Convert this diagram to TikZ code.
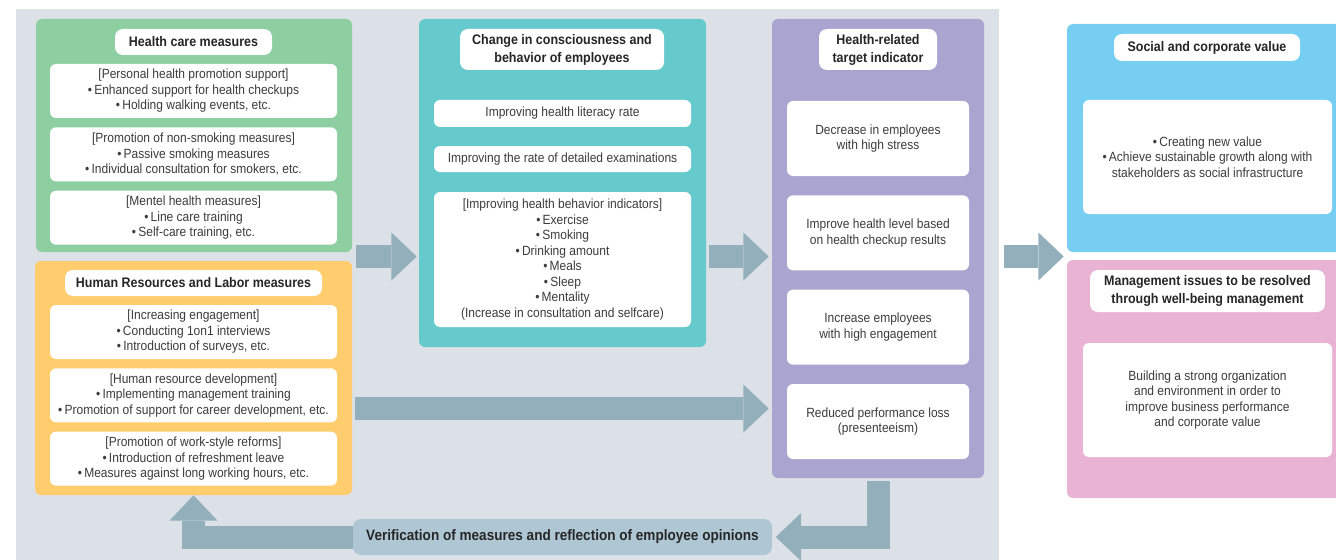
\documentclass[tikz,border=0pt]{standalone}
\usepackage{fontspec}
\setmainfont{Liberation Sans}[FakeStretch=0.9]
\usepackage{tikz}
\usetikzlibrary{arrows.meta,calc}
\definecolor{bggray}{HTML}{DCE1E8}
\definecolor{hcgreen}{HTML}{8DCFA0}
\definecolor{hrorange}{HTML}{FFCC6E}
\definecolor{chteal}{HTML}{66C9CB}
\definecolor{tipurple}{HTML}{AAA4D0}
\definecolor{valblue}{HTML}{76CFF3}
\definecolor{mipink}{HTML}{E9B4D3}
\definecolor{arrowgray}{HTML}{93AFBC}
\definecolor{verifblue}{HTML}{AFC7D4}
\definecolor{txtgray}{HTML}{3C3C3C}
\tikzstyle{panel} = [rectangle, rounded corners=4.5pt, inner sep=0pt]
\tikzstyle{title} = [rectangle, fill=white, rounded corners=6pt, align=center, inner sep=0pt, text=black!85, font=\bfseries\fontsize{10.4}{13.5}\selectfont]
\tikzstyle{item} = [rectangle, fill=white, rounded corners=4.5pt, align=center, inner sep=0pt, text=txtgray, font=\fontsize{10}{11.6}\selectfont]
\tikzstyle{flow} = [draw=arrowgray, line width=17.25pt, -{Triangle[width=36pt,length=19pt,line width=0pt]}]

\begin{document}
\begin{tikzpicture}[x=0.75pt, y=-0.75pt, node distance=47.5pt]
        \useasboundingbox (0,0) rectangle (1336,560);
        \clip (0,0) rectangle (1336,560);
        \node[rectangle, fill=bggray, inner sep=0pt, minimum width=737.25pt, minimum height=420.75pt] (back) at (507.5,289.5) {};

        \node[panel, fill=hcgreen, minimum width=237pt, minimum height=174.75pt] (health) at (194,135.5) {};
        \node[title, minimum width=117.75pt, minimum height=19.5pt] (healthT) at (193.5,42) {Health care measures};
        \node[item, minimum width=215.25pt, minimum height=40.5pt] (health1) at (193.5,91) {[Personal health promotion support]\\ •\,Enhanced support for health checkups\\ •\,Holding walking events, etc.};
        \node[item, minimum width=215.25pt, minimum height=40.5pt, below of=health1] (health2) {[Promotion of non-smoking measures]\\ •\,Passive smoking measures\\ •\,Individual consultation for smokers, etc.};
        \node[item, minimum width=215.25pt, minimum height=40.5pt, below of=health2] (health3) {[Mentel health measures]\\ •\,Line care training\\ •\,Self-care training, etc.};

        \node[panel, fill=hrorange, minimum width=237.75pt, minimum height=175.5pt] (labor) at (193.5,378) {};
        \node[title, minimum width=192.75pt, minimum height=19.5pt] (laborT) at (193.5,283) {Human Resources and Labor measures};
        \node[item, minimum width=215.25pt, minimum height=40.5pt] (labor1) at (193.5,332) {[Increasing engagement]\\ •\,Conducting 1on1 interviews\\ •\,Introduction of surveys, etc.};
        \node[item, minimum width=215.25pt, minimum height=40.5pt, below of=labor1] (labor2) {[Human resource development]\\ •\,Implementing management training\\ •\,Promotion of support for career development, etc.};
        \node[item, minimum width=215.25pt, minimum height=40.5pt, below of=labor2] (labor3) {[Promotion of work-style reforms]\\ •\,Introduction of refreshment leave\\ •\,Measures against long working hours, etc.};

        \node[panel, fill=chteal, minimum width=215.25pt, minimum height=246pt] (change) at (562.5,183) {};
        \node[title, minimum width=153pt, minimum height=30.75pt] (changeT) at (562,49.5) {Change in consciousness and\\ behavior of employees};
        \node[item, minimum width=192.75pt, minimum height=20.25pt] (change1) at (562.5,113.5) {Improving health literacy rate};
        \node[item, minimum width=192.75pt, minimum height=19.5pt] (change2) at (562.5,159) {Improving the rate of detailed examinations};
        \node[item, minimum width=192.75pt, minimum height=101.25pt] (change3) at (562.5,259.5) {[Improving health behavior indicators]\\ •\,Exercise\\ •\,Smoking\\ •\,Drinking amount\\ •\,Meals\\ •\,Sleep\\ •\,Mentality\\ (Increase in consultation and selfcare)};

        \node[panel, fill=tipurple, minimum width=159pt, minimum height=344.25pt] (target) at (878,248.5) {};
        \node[title, minimum width=88.5pt, minimum height=30.75pt] (targetT) at (878,49.5) {Health-related\\ target indicator};
        \node[item, minimum width=136.5pt, minimum height=56.25pt] (target1) at (878,138.5) {Decrease in employees\\ with high stress};
        \node[item, minimum width=136.5pt, minimum height=56.25pt, below of=target1, node distance=70.75pt] (target2) {Improve health level based\\ on health checkup results};
        \node[item, minimum width=136.5pt, minimum height=56.25pt, below of=target2, node distance=70.75pt] (target3) {Increase employees\\ with high engagement};
        \node[item, minimum width=136.5pt, minimum height=56.25pt, below of=target3, node distance=70.75pt] (target4) {Reduced performance loss\\ (presenteeism)};

        \node[panel, fill=valblue, minimum width=212.25pt, minimum height=171pt] (value) at (1208.5,138) {};
        \node[title, minimum width=139.5pt, minimum height=20.25pt] (valueT) at (1207,47.5) {Social and corporate value};
        \node[item, minimum width=186.75pt, minimum height=85.5pt] (value1) at (1207.5,157) {•\,Creating new value\\ •\,Achieve sustainable growth along with\\ stakeholders as social infrastructure};

        \node[panel, fill=mipink, minimum width=212.25pt, minimum height=178.5pt] (issue) at (1208.5,379) {};
        \node[title, minimum width=176.25pt, minimum height=31.5pt] (issueT) at (1207.5,291) {Management issues to be resolved\\ through well-being management};
        \node[item, minimum width=186.75pt, minimum height=85.5pt] (issue1) at (1207.5,400) {Building a strong organization\\ and environment in order to\\ improve business performance\\ and corporate value};

        \node[panel, fill=verifblue, rounded corners=6pt, minimum width=314.25pt, minimum height=27pt, text=black!85, font=\bfseries\fontsize{11.3}{13}\selectfont] (verif) at (562.5,537) {Verification of measures and reflection of employee opinions};

        \coordinate (gap) at ($(health.south east)!.5!(labor.north east)$);
        \coordinate (hr) at (labor.east |- 0,408.5);
        \path[flow, shorten <=3pt, shorten >=1.5pt] (gap) -- (gap -| change.west);
        \path[flow, shorten <=2.25pt, shorten >=2.25pt] (gap -| change.east) -- (gap -| target.west);
        \path[flow, shorten <=3.75pt, shorten >=2.25pt] (gap -| back.east) -- (gap -| value.west);
        \path[flow, shorten <=2.25pt, shorten >=2.25pt] (hr) -- (hr -| target.west);
        \path[flow, shorten <=2.25pt, shorten >=2.6pt] (target.south) |- (verif.east);
        \path[flow] (verif.west) -| (labor.south);
\end{tikzpicture}
\end{document}
